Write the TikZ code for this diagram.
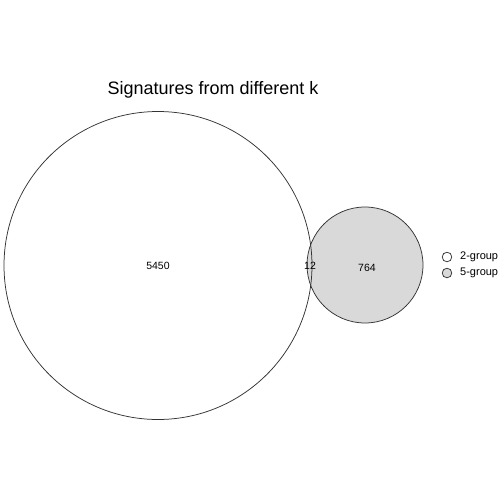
\documentclass[tikz,border=0pt]{standalone}
\usepackage{fontspec}
\setmainfont{Liberation Sans}
\definecolor{fillgray}{HTML}{D9D9D9}
\definecolor{linegray}{HTML}{333333}
\begin{document}
\begin{tikzpicture}[x=1pt,y=-1pt,
  setline/.style={draw=linegray,line width=0.75pt},
  numlabel/.style={font=\fontsize{10.5}{12}\selectfont,inner sep=0pt},
  legtext/.style={font=\fontsize{11}{13}\selectfont,inner sep=0pt,anchor=west}]
\path[use as bounding box,fill=white] (0,0) rectangle (504,504);
\clip (0,0) rectangle (504,504);
\fill[fillgray] (365,265) circle (58);
\draw[setline] (158,265.5) circle (154);
\draw[setline] (365,265) circle (58);
\node[font=\fontsize{18}{21}\selectfont,inner sep=0pt] (title) at (213,90) {Signatures from different k};
\node[numlabel] (a) at (158,266) {5450};
\node[numlabel] (ab) at (310,266) {12};
\node[numlabel] (b) at (367,268) {764};
\draw[setline,fill=white] (447,257) circle (4.8);
\draw[setline,fill=fillgray] (447,273) circle (4.8);
\node[legtext] (l1) at (460,257) {2-group};
\node[legtext] (l2) at (460,273) {5-group};
\end{tikzpicture}
\end{document}
